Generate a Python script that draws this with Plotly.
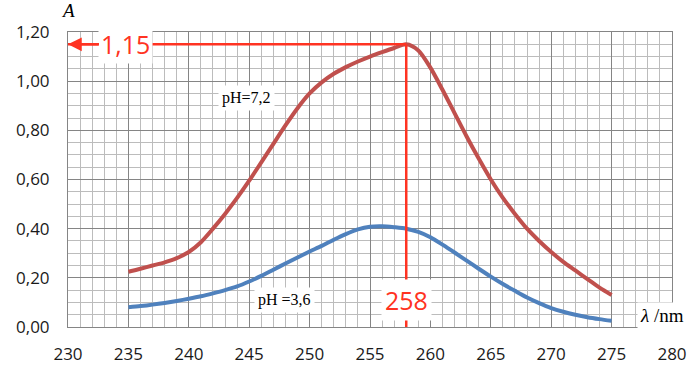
import plotly.graph_objects as go

wavelength = list(range(235, 276))
a_ph72 = [0.225, 0.237, 0.25, 0.263, 0.28, 0.305, 0.345, 0.40, 0.46, 0.525,
          0.595, 0.67, 0.745, 0.82, 0.89, 0.95, 0.995, 1.03, 1.057, 1.08,
          1.10, 1.118, 1.135, 1.15, 1.125, 1.055, 0.965, 0.87, 0.775, 0.685,
          0.60, 0.525, 0.46, 0.40, 0.35, 0.305, 0.265, 0.23, 0.195, 0.16, 0.13]
a_ph36 = [0.08, 0.085, 0.091, 0.098, 0.106, 0.115, 0.125, 0.137, 0.15, 0.165,
          0.185, 0.208, 0.233, 0.258, 0.283, 0.307, 0.33, 0.355, 0.378, 0.397,
          0.408, 0.41, 0.406, 0.40, 0.387, 0.365, 0.335, 0.303, 0.27, 0.237,
          0.205, 0.175, 0.147, 0.12, 0.097, 0.077, 0.062, 0.05, 0.04, 0.032, 0.025]

x_ticks = [230, 235, 240, 245, 250, 255, 260, 265, 270, 275, 280]
y_ticks = [0.0, 0.2, 0.4, 0.6, 0.8, 1.0, 1.2]
y_ticktext = ["0,00", "0,20", "0,40", "0,60", "0,80", "1,00", "1,20"]

peak_x = 258
peak_y = 1.15

RED = "#ff3322"
MAJOR = "#858585"
MINOR = "#bcbcbc"
tick_font = dict(family="Open Sans", size=17, color="#1a1a1a")

fig = go.Figure()
fig.add_trace(go.Scatter(x=wavelength, y=a_ph72, mode="lines",
                         line=dict(color="#c0504d", width=4, shape="spline", smoothing=0.8),
                         showlegend=False))
fig.add_trace(go.Scatter(x=wavelength, y=a_ph36, mode="lines",
                         line=dict(color="#4f81bd", width=4, shape="spline", smoothing=0.8),
                         showlegend=False))

# guide lines
fig.add_shape(type="line", x0=230, x1=peak_x, y0=peak_y, y1=peak_y,
              line=dict(color=RED, width=2.5), layer="above")
fig.add_shape(type="line", x0=peak_x, x1=peak_x, y0=0, y1=peak_y,
              line=dict(color=RED, width=2.5), layer="above")

fig.add_annotation(x=230, y=peak_y, ax=234.8, ay=peak_y, axref="x", ayref="y",
                   text="1,15", showarrow=True, arrowhead=2, arrowsize=1.1,
                   arrowwidth=2.5, arrowcolor=RED, bgcolor="white", borderpad=2,
                   font=dict(family="Open Sans", size=25, color=RED))
fig.add_annotation(x=peak_x, y=0.11, text="258", showarrow=False,
                   bgcolor="white", borderpad=3,
                   font=dict(family="Open Sans", size=25, color=RED))

fig.add_annotation(x=244.8, y=0.93, text="pH=7,2", showarrow=False,
                   bgcolor="white", borderpad=3,
                   font=dict(family="Liberation Serif", size=16, color="black"))
fig.add_annotation(x=247.9, y=0.11, text="pH =3,6", showarrow=False,
                   bgcolor="white", borderpad=3,
                   font=dict(family="Liberation Serif", size=16, color="black"))

fig.add_annotation(x=0.0, y=1.0, xref="paper", yref="paper", yshift=9,
                   text="<i>A</i>", showarrow=False, xanchor="center", yanchor="bottom",
                   font=dict(family="Liberation Serif", size=19, color="black"))
fig.add_annotation(x=(662 - 68) / 604, y=(327 - 315) / 295, xref="x domain", yref="y domain",
                   text="<i>λ</i> /nm", showarrow=False, bgcolor="white", borderpad=2,
                   xanchor="center", yanchor="middle",
                   font=dict(family="Liberation Serif", size=19, color="black"))

fig.update_xaxes(range=[230, 280], tickvals=x_ticks, ticktext=[str(v) for v in x_ticks],
                 showgrid=True, gridcolor=MAJOR, gridwidth=1,
                 minor=dict(dtick=1, showgrid=True, gridcolor=MINOR, gridwidth=1),
                 showline=True, linecolor=MAJOR, linewidth=1, mirror=True,
                 zeroline=False, tickfont=tick_font, ticks="", ticklabelstandoff=12,
                 automargin=False)
fig.update_yaxes(range=[0, 1.2], tickvals=y_ticks, ticktext=y_ticktext,
                 showgrid=True, gridcolor=MAJOR, gridwidth=1,
                 minor=dict(dtick=0.05, showgrid=True, gridcolor=MINOR, gridwidth=1),
                 showline=True, linecolor=MAJOR, linewidth=1, mirror=True,
                 zeroline=False, tickfont=tick_font, ticks="", ticklabelstandoff=14,
                 automargin=False)

fig.update_layout(width=700, height=375, margin=dict(l=68, r=28, t=32, b=48),
                  plot_bgcolor="white", paper_bgcolor="white")

fig.write_html("out.html", config={"displayModeBar": False},
               post_script="document.body.style.margin='0';document.body.style.overflow='hidden';")
